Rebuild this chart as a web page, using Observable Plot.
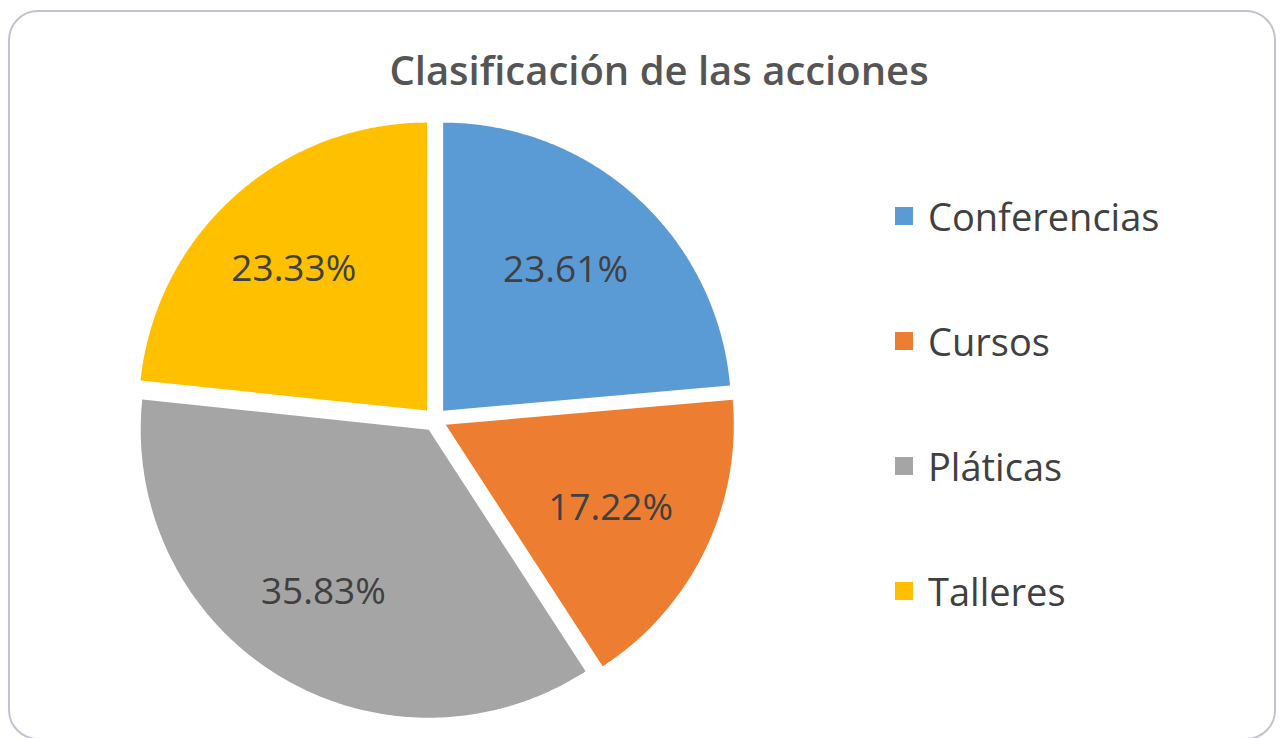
<!DOCTYPE html>
<html>
<head>
<meta charset="utf-8">
<script src="https://cdn.jsdelivr.net/npm/d3@7"></script>
<script src="https://cdn.jsdelivr.net/npm/@observablehq/plot@0.6"></script>
<style>
  html, body { margin: 0; padding: 0; background: #fff; }
  #wrap { position: relative; width: 1282px; height: 738px; overflow: hidden; font-family: "Open Sans", sans-serif; }
  #card { position: absolute; left: 8px; top: 10px; width: 1268px; height: 730px; border: 2px solid #c3c3cf; border-radius: 30px; box-sizing: border-box; }
  #title { position: absolute; left: 0; width: 1318px; top: 50px; text-align: center; font-size: 40px; font-weight: 600; color: #555555; line-height: 1; }
  #chart { position: absolute; left: 0; top: 0; }
  #legend { position: absolute; left: 895px; top: 194px; }
  .item { display: flex; align-items: center; height: 44px; margin-bottom: 81px; font-size: 38px; color: #404040; }
  .sw { width: 18px; height: 18px; margin-right: 15px; }
</style>
</head>
<body>
<div id="wrap">
  <div id="card"></div>
  <div id="chart"></div>
  <div id="title">Clasificación de las acciones</div>
  <div id="legend"></div>
</div>
<script>
const categories = ["Conferencias", "Cursos", "Pláticas", "Talleres"];
const shares = [23.61, 17.22, 35.83, 23.33];
const labels = ["23.61%", "17.22%", "35.83%", "23.33%"];
const colors = ["#5B9BD5", "#ED7D31", "#A5A5A5", "#FFC000"];

// layout (pixels)
const cx = 434.5, cy = 419, R = 288, explode = 12, labelR = 0.66;

const rows = categories.map((name, i) => ({name, value: shares[i], label: labels[i]}));
const arcs = d3.pie().sort(null).value(d => d.value).startAngle(0).endAngle(2 * Math.PI)(rows);

const off = explode / R;
const pts = [];
const labelPts = [];
for (const a of arcs) {
  const mid = (a.startAngle + a.endAngle) / 2;
  const ox = off * Math.sin(mid), oy = off * Math.cos(mid);
  pts.push({name: a.data.name, x: ox, y: oy});
  const n = Math.max(2, Math.ceil((a.endAngle - a.startAngle) / (Math.PI / 360)));
  for (let k = 0; k <= n; k++) {
    const t = a.startAngle + (a.endAngle - a.startAngle) * k / n;
    pts.push({name: a.data.name, x: ox + Math.sin(t), y: oy + Math.cos(t)});
  }
  labelPts.push({name: a.data.name, label: a.data.label, x: ox + labelR * Math.sin(mid), y: oy + labelR * Math.cos(mid)});
}

const chart = Plot.plot({
  width: 1282,
  height: 738,
  margin: 0,
  style: {background: "transparent", fontFamily: "Open Sans, sans-serif"},
  x: {domain: [-1, 1], range: [cx - R, cx + R], axis: null},
  y: {domain: [-1, 1], range: [cy + R, cy - R], axis: null},
  color: {domain: categories, range: colors},
  marks: [
    Plot.line(pts, {x: "x", y: "y", z: "name", fill: "name", stroke: "none", curve: "linear-closed"}),
    Plot.text(labelPts, {x: "x", y: "y", text: "label", fontSize: 37, fill: "#404040", dx: -6})
  ]
});
document.getElementById("chart").appendChild(chart);

const legend = document.getElementById("legend");
categories.forEach((c, i) => {
  const it = document.createElement("div");
  it.className = "item";
  const sw = document.createElement("div");
  sw.className = "sw";
  sw.style.background = colors[i];
  const tx = document.createElement("span");
  tx.textContent = c;
  it.appendChild(sw);
  it.appendChild(tx);
  legend.appendChild(it);
});
</script>
</body>
</html>
